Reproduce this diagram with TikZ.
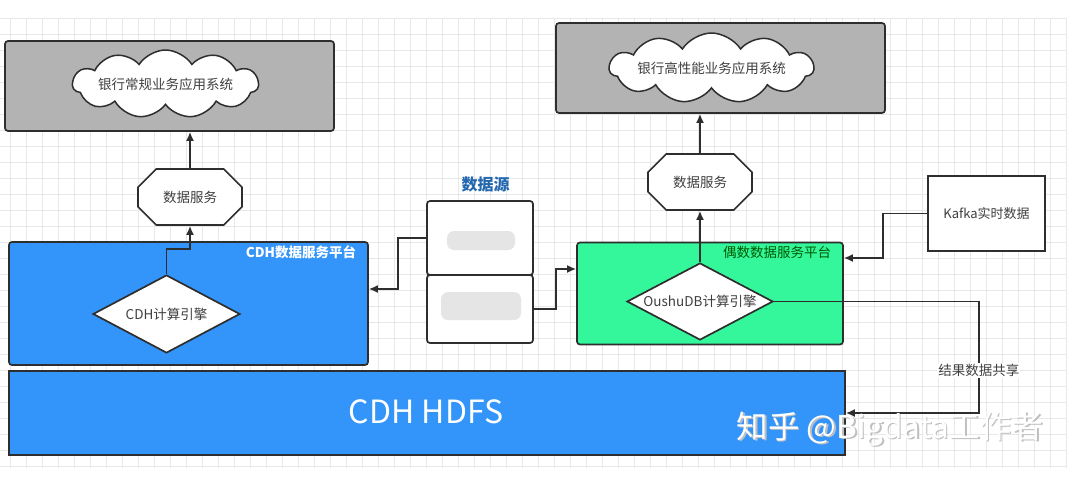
\documentclass[tikz,border=0pt]{standalone}
\usepackage{fontspec}
\setmainfont{Noto Sans CJK SC}
\usetikzlibrary{shapes.geometric,shapes.symbols,shapes.misc,arrows.meta}
\definecolor{cdhblue}{HTML}{3394FA}
\definecolor{oushugreen}{HTML}{33F79A}
\definecolor{appgray}{HTML}{B3B3B3}
\definecolor{edge}{HTML}{2E2E2E}
\definecolor{gridgray}{HTML}{E8E8E8}
\begin{document}
\begin{tikzpicture}[x=1pt,y=-1pt,
    every node/.style={font=\fontsize{13.5}{15}\selectfont,text=black!75},
    box/.style={draw=edge,line width=1.7pt,rounded corners=3pt,inner sep=0pt},
    appbox/.style={box,fill=appgray},
    platform/.style={box},
    engine/.style={draw=edge,line width=1.7pt,fill=white,diamond,aspect=1.9,inner sep=0pt},
    service/.style={draw=edge,line width=1.7pt,fill=white,chamfered rectangle,
      chamfered rectangle xsep=14pt,chamfered rectangle ysep=12pt,inner sep=0pt},
    app/.style={draw=edge,line width=1.5pt,fill=white,cloud,cloud puffs=11,
      cloud puff arc=115,cloud ignores aspect,inner sep=0pt},
    arr/.style={draw=edge,line width=1.7pt,-{Latex[length=9pt,width=8pt]}}]
  \useasboundingbox (0,0) rectangle (1074,477);
  \fill[white] (0,0) rectangle (1074,477);
  \foreach \x in {10,26,...,1066}
    \draw[gridgray,line width=0.8pt] (\x,18) -- (\x,468);
  \foreach \y in {18,34,...,468}
    \draw[gridgray,line width=0.8pt] (0,\y) -- (1066,\y);

  \node[appbox,minimum width=329pt,minimum height=90pt] (app1) at (169.5,86) {};
  \node[app,minimum width=185pt,minimum height=68pt] (cloud1) at (165.5,84) {银行常规业务应用系统};
  \node[service,minimum width=104pt,minimum height=56pt] (svc1) at (190,197) {数据服务};
  \node[platform,fill=cdhblue,minimum width=359pt,minimum height=123pt] (cdh) at (188.5,303.5) {};
  \node[text=white,font=\fontsize{13.5}{15}\selectfont\bfseries] (cdhlabel) at (301,252) {CDH数据服务平台};
  \node[engine,minimum width=147pt,minimum height=78pt] (cdheng) at (166.5,314) {CDH计算引擎};
  \node[draw=edge,line width=1.7pt,fill=cdhblue,minimum width=836pt,minimum height=84pt] (hdfs) at (427,413) {};
  \node[text=white,font=\fontsize{32}{36}\selectfont] (hdfslabel) at (426,412) {CDH HDFS};

  \node[text=cdhblue!70!black,font=\fontsize{16}{18}\selectfont\bfseries] (srctitle) at (485.5,184) {数据源};
  \node[box,fill=white,minimum width=106pt,minimum height=74pt] (src1) at (480,238) {};
  \node[box,fill=white,minimum width=106pt,minimum height=68pt] (src2) at (480,309) {};
  \fill[black!10,rounded corners=7pt] (447,231) rectangle (515,250);
  \fill[black!10,rounded corners=7pt] (441,292) rectangle (521,320);

  \node[appbox,minimum width=329pt,minimum height=90pt] (app2) at (720.5,68) {};
  \node[app,minimum width=187pt,minimum height=70pt] (cloud2) at (711.5,68) {银行高性能业务应用系统};
  \node[service,minimum width=104pt,minimum height=56pt] (svc2) at (700,182) {数据服务};
  \node[platform,fill=oushugreen,minimum width=266pt,minimum height=102pt] (oushu) at (710,293.5) {};
  \node[text=green!35!black] (oushulabel) at (777,252) {偶数数据服务平台};
  \node[engine,minimum width=146pt,minimum height=77pt] (odbeng) at (700,301.5) {OushuDB计算引擎};
  \node[draw=edge,line width=1.7pt,fill=white,minimum width=117pt,minimum height=75pt,
    font=\fontsize{13}{15}\selectfont] (kafka) at (986.5,213.5) {Kafka实时数据};

  \draw[arr] (svc1.north) -- (svc1.north |- app1.south);
  \draw[arr] (cdheng.north) -- ++(0,-25) -| (svc1.south);
  \draw[arr] (svc2.north) -- (svc2.north |- app2.south);
  \draw[arr] (odbeng.north) -- (svc2.south);
  \draw[arr] (src1.west) -- ++(-28,0) |- ([yshift=14.5pt]cdh.east);
  \draw[arr] (src2.east) -- ++(22,0) |- ([yshift=24.5pt]oushu.west);
  \draw[arr] (kafka.west) -- ++(-44,0) |- ([yshift=35.5pt]oushu.east);
  \draw[arr] (odbeng.east) -- ++(205,0) |- (hdfs.east)
    node[pos=0.31,fill=white,inner sep=1pt] (share) {结果数据共享};

  \node[text=black!25,font=\fontsize{31.5}{36}\selectfont] (wmshadow) at (891.5,430.5) {知乎 @Bigdata工作者};
  \node[text=white,font=\fontsize{31.5}{36}\selectfont] (wm) at (890,429) {知乎 @Bigdata工作者};
\end{tikzpicture}
\end{document}
